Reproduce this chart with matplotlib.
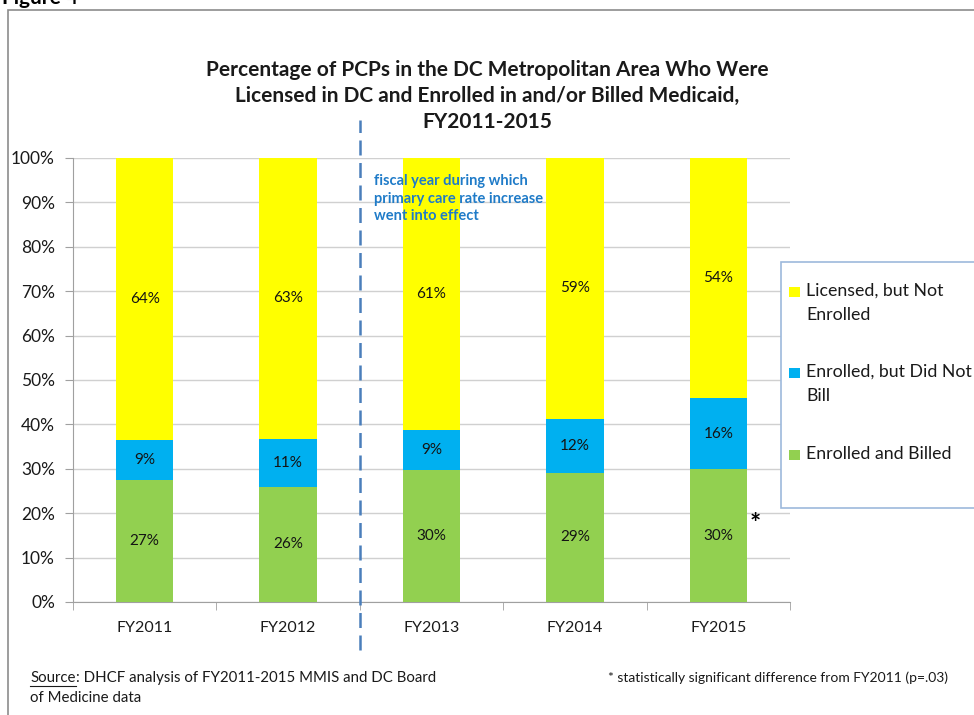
import matplotlib.pyplot as plt
import matplotlib.patches as mpatches
import numpy as np

# data (percent of PCPs)
years = ['FY2011', 'FY2012', 'FY2013', 'FY2014', 'FY2015']
billed = [27.4, 26.0, 29.8, 29.1, 29.9]
no_bill = [9.1, 10.8, 9.0, 12.2, 16.0]
not_enrolled = [63.5, 63.2, 61.2, 58.7, 54.1]
billed_lbl = ['27%', '26%', '30%', '29%', '30%']
no_bill_lbl = ['9%', '11%', '9%', '12%', '16%']
not_enrolled_lbl = ['64%', '63%', '61%', '59%', '54%']
yticks = [0, 10, 20, 30, 40, 50, 60, 70, 80, 90, 100]

GREEN = '#92D050'
BLUE = '#00B0F0'
YELLOW = '#FFFF00'
FONT = 'Lato'

plt.rcParams['font.family'] = [FONT, 'DejaVu Sans']

W, H = 974, 715
fig = plt.figure(figsize=(W / 100, H / 100), dpi=100)

def fx(px):
    return px / W

def fy(py):
    return 1 - py / H

ax = fig.add_axes([fx(73), fy(602), fx(790 - 73), (602 - 158) / H])

x = np.arange(len(years))
bw = 0.40
ax.bar(x, billed, bw, color=GREEN, zorder=3)
ax.bar(x, no_bill, bw, bottom=billed, color=BLUE, zorder=3)
bot2 = np.array(billed) + np.array(no_bill)
ax.bar(x, not_enrolled, bw, bottom=bot2, color=YELLOW, zorder=3)

# data labels
for i in range(len(years)):
    ax.text(x[i], billed[i] / 2, billed_lbl[i], ha='center', va='center',
            fontsize=11, color='#141414', zorder=4)
    ax.text(x[i], billed[i] + no_bill[i] / 2, no_bill_lbl[i], ha='center', va='center',
            fontsize=11, color='#141414', zorder=4)
    ax.text(x[i], bot2[i] + not_enrolled[i] / 2, not_enrolled_lbl[i], ha='center', va='center',
            fontsize=11, color='#141414', zorder=4)

ax.set_xlim(-0.5, len(years) - 0.5)
ax.set_ylim(0, 100)
ax.set_yticks(yticks)
ax.set_yticklabels([f'{v}%' for v in yticks])
ax.set_xticks(x)
ax.set_xticklabels(years)
ax.set_xticks(np.arange(-0.5, len(years)), minor=True)
ax.tick_params(axis='x', which='major', length=0, pad=14, labelsize=11.5, labelcolor='#1a1a1a')
ax.tick_params(axis='x', which='minor', length=6, color='#a0a0a0', direction='out')
ax.tick_params(axis='y', length=6, color='#a0a0a0', pad=7, labelsize=12.5, labelcolor='#1a1a1a')
ax.grid(axis='y', color='#d0d0d0', lw=1, zorder=0)
for s in ['top', 'right']:
    ax.spines[s].set_visible(False)
ax.spines['left'].set_color('#a0a0a0')
ax.spines['bottom'].set_color('#a0a0a0')

# rate increase marker between FY2012 and FY2013
ax.plot([1.5, 1.5], [-10.8, 108.6], color='#4A7EBB', lw=1.8, ls=(0, (6, 3)),
        clip_on=False, zorder=5)
ax.text(1.6, 96.3, 'fiscal year during which\nprimary care rate increase\nwent into effect',
        color='#1F7BC8', fontsize=10.5, fontweight='bold', va='top', ha='left',
        linespacing=1.3, zorder=6)

# significance star
ax.text(4.26, 17.5, '*', fontsize=19, fontweight='bold', ha='center', va='center')

# title
fig.text(fx(487), fy(96), 'Percentage of PCPs in the DC Metropolitan Area Who Were\n'
         'Licensed in DC and Enrolled in and/or Billed Medicaid,\nFY2011-2015',
         ha='center', va='center', fontsize=15, fontweight='bold', color='#1a1a1a',
         linespacing=1.35)

# legend box drawn by hand so it can run off the right edge like the original
fig.add_artist(mpatches.Rectangle((fx(781), fy(508)), fx(260), (508 - 262) / H,
                                  transform=fig.transFigure, facecolor='white',
                                  edgecolor='#9DB9DC', lw=1.2, zorder=10))
leg_items = [(YELLOW, 'Licensed, but Not\nEnrolled', 292),
             (BLUE, 'Enrolled, but Did Not\nBill', 373),
             (GREEN, 'Enrolled and Billed', 455)]
for col, lab, py in leg_items:
    fig.add_artist(mpatches.Rectangle((fx(789), fy(py + 5)), fx(11), 10 / H,
                                      transform=fig.transFigure, facecolor=col,
                                      edgecolor='none', zorder=11))
    fig.text(fx(806), fy(py - 9), lab, ha='left', va='top', fontsize=12.8,
             color='#1a1a1a', linespacing=1.6, zorder=11)

# outer frame of the figure panel
fig.add_artist(mpatches.Rectangle((fx(8), fy(740)), fx(1000), (740 - 10) / H,
                                  transform=fig.transFigure, facecolor='none',
                                  edgecolor='#8c8c8c', lw=1.2, zorder=1))
fig.text(fx(2), fy(4), 'Figure 4', ha='left', va='baseline', fontsize=15,
         fontweight='bold', color='black')

# source and footnote
src = fig.text(fx(30), fy(678), 'Source', ha='left', va='center', fontsize=10.8, color='#1a1a1a')
fig.canvas.draw()
bb = src.get_window_extent()
fig.add_artist(plt.Line2D([bb.x0 / W, bb.x1 / W], [(bb.y0 - 1) / H, (bb.y0 - 1) / H],
                          transform=fig.transFigure, color='#1a1a1a', lw=0.8))
fig.text(bb.x1 / W, fy(678), ': DHCF analysis of FY2011-2015 MMIS and DC Board',
         ha='left', va='center', fontsize=10.8, color='#1a1a1a')
fig.text(fx(30), fy(698), 'of Medicine data', ha='left', va='center', fontsize=10.8,
         color='#1a1a1a')
fig.text(fx(948), fy(678), '* statistically significant difference from FY2011 (p=.03)',
         ha='right', va='center', fontsize=10, color='#1a1a1a')

fig.savefig('out.png', dpi=100)
